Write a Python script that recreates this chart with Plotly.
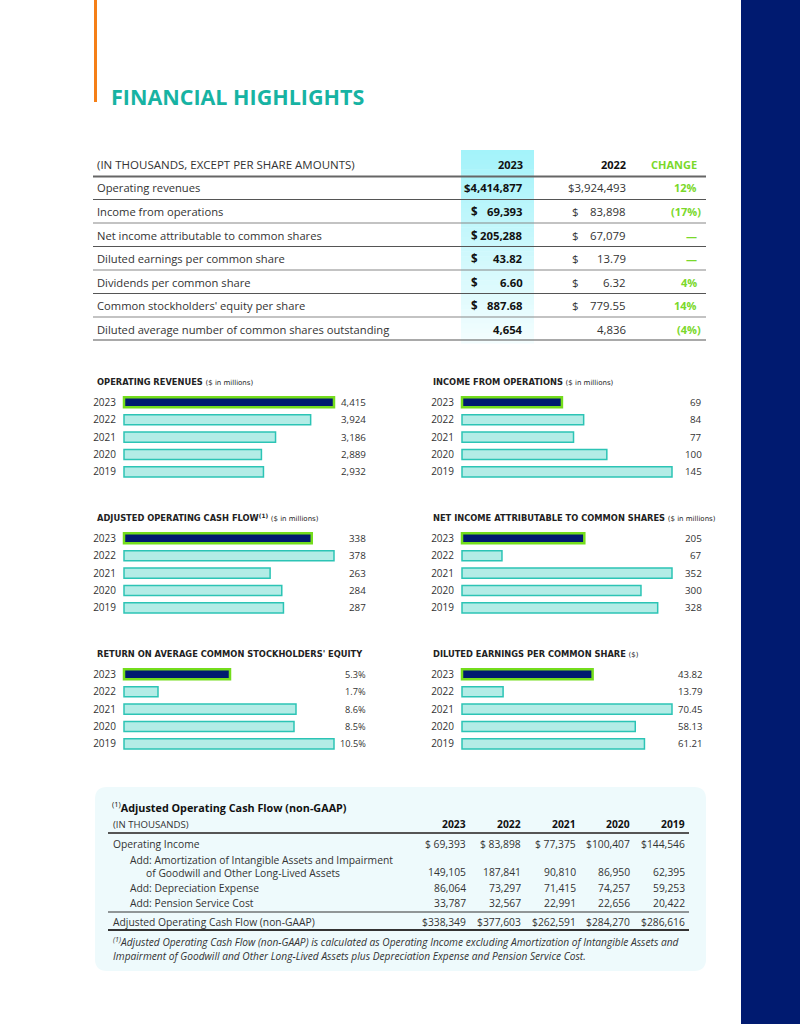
import plotly.graph_objects as go

W, H = 800, 1024
def X(p): return p / W
def Y(p): return 1 - p / H

FONT = "Open Sans"
TFONT = "DejaVu Sans"
NAVY = "#001A70"
LIME = "#74DD1C"
GREEN_TXT = "#7AD82A"
TEAL_TITLE = "#17B3A3"
BAR_FILL = "#B3ECE6"
BAR_LINE = "#2CC4B5"
TXT = "#333333"

# ---------------- data ----------------
years = ["2023", "2022", "2021", "2020", "2019"]
op_revenues = [4415, 3924, 3186, 2889, 2932]
income_ops = [69, 84, 77, 100, 145]
adj_ocf = [338, 378, 263, 284, 287]
net_income = [205, 67, 352, 300, 328]
roe_pct = [5.3, 1.7, 8.6, 8.5, 10.5]
eps = [43.82, 13.79, 70.45, 58.13, 61.21]

hl_labels = ["Operating revenues", "Income from operations",
             "Net income attributable to common shares",
             "Diluted earnings per common share", "Dividends per common share",
             "Common stockholders' equity per share",
             "Diluted average number of common shares outstanding"]
hl_2023 = ["$4,414,877", "69,393", "205,288", "43.82", "6.60", "887.68", "4,654"]
hl_2023_dollar = [False, True, True, True, True, True, False]
hl_2022 = ["$3,924,493", "83,898", "67,079", "13.79", "6.32", "779.55", "4,836"]
hl_2022_dollar = [False, True, True, True, True, True, False]
hl_change = ["12%", "(17%)", "—", "—", "4%", "14%", "(4%)"]

ocf_years = ["2023", "2022", "2021", "2020", "2019"]
ocf_labels = ["Operating Income",
              "Add: Amortization of Intangible Assets and Impairment<br>      of Goodwill and Other Long-Lived Assets",
              "Add: Depreciation Expense", "Add: Pension Service Cost",
              "Adjusted Operating Cash Flow (non-GAAP)"]
operating_income = ["$ 69,393", "$ 83,898", "$ 77,375", "$100,407", "$144,546"]
amortization = ["149,105", "187,841", "90,810", "86,950", "62,395"]
depreciation = ["86,064", "73,297", "71,415", "74,257", "59,253"]
pension_cost = ["33,787", "32,567", "22,991", "22,656", "20,422"]
adjusted_ocf = ["$338,349", "$377,603", "$262,591", "$284,270", "$286,616"]

fig = go.Figure()
shapes = []
ann = []

def txt(x, y, s, anchor="left", size=11, color=TXT, family=FONT, yanchor="middle"):
    ann.append(dict(x=X(x), y=Y(y), xref="paper", yref="paper", text=s, showarrow=False,
                    xanchor=anchor, yanchor=yanchor, align=anchor if anchor != "center" else "center",
                    font=dict(size=size, color=color, family=family)))

def hline(x0, x1, y, color="#555", width=1):
    shapes.append(dict(type="line", xref="paper", yref="paper", x0=X(x0), x1=X(x1), y0=Y(y), y1=Y(y),
                       line=dict(color=color, width=width)))

def rect(x0, y0, x1, y1, color, layer="below"):
    shapes.append(dict(type="rect", xref="paper", yref="paper", x0=X(x0), x1=X(x1), y0=Y(y0), y1=Y(y1),
                       fillcolor=color, line=dict(width=0), layer=layer))

# ---------------- decorations ----------------
rect(741, 0, 800, 1024, NAVY)
rect(94, 0, 97, 102, "#F57F17")
txt(109, 96, "<b>FINANCIAL HIGHLIGHTS</b>", size=21.5, color=TEAL_TITLE)

# highlight column gradient
n = 40
c0 = (164, 243, 250); c1 = (244, 254, 255)
for i in range(n):
    t = i / (n - 1)
    c = tuple(int(c0[k] + (c1[k] - c0[k]) * t) for k in range(3))
    y0 = 150 + (343 - 150) * i / n
    y1 = 150 + (343 - 150) * (i + 1) / n + 0.5
    rect(461, y0, 534, y1, "rgb(%d,%d,%d)" % c)

# ---------------- top table ----------------
row_y = [187, 211, 235, 258, 282, 305, 329]
line_y = [199.5, 223, 246.5, 270, 293.5, 317, 340]
txt(95, 164, "(IN THOUSANDS, EXCEPT PER SHARE AMOUNTS)", size=11.5)
txt(525, 164, "<b>2023</b>", anchor="right", size=11, color="#111")
txt(628, 164, "<b>2022</b>", anchor="right", size=11, color="#111")
txt(699, 164, "<b>CHANGE</b>", anchor="right", size=11, color=GREEN_TXT)
hline(93, 706, 176.5, color="#666", width=2)
for i, lab in enumerate(hl_labels):
    y = row_y[i]
    txt(95, y, lab, size=11.2)
    if hl_2023_dollar[i]:
        txt(469, y, "<b>$</b>", size=11.5, color="#111")
    txt(525, y, "<b>%s</b>" % hl_2023[i], anchor="right", size=11.3, color="#111")
    if hl_2022_dollar[i]:
        txt(570, y, "$", size=11.5)
    txt(628, y, hl_2022[i], anchor="right", size=11.4)
    ch = hl_change[i]
    txt(703 if ch.endswith(")") else 699, y, "<b>%s</b>" % ch, anchor="right", size=11, color=GREEN_TXT)
    hline(93, 706, line_y[i], color="#555" if i % 2 == 0 else "#888", width=1.2)

# ---------------- bar charts ----------------
charts = [
    ("OPERATING REVENUES", "($ in millions)", op_revenues, lambda v: f"{v:,}", 9.8),
    ("INCOME FROM OPERATIONS", "($ in millions)", income_ops, lambda v: f"{v:,}", 9.8),
    ("ADJUSTED OPERATING CASH FLOW<sup>(1)</sup>", "($ in millions)", adj_ocf, lambda v: f"{v:,}", 9.8),
    ("NET INCOME ATTRIBUTABLE TO COMMON SHARES", "($ in millions)", net_income, lambda v: f"{v:,}", 9.8),
    ("RETURN ON AVERAGE COMMON STOCKHOLDERS' EQUITY", "", roe_pct, lambda v: f"{v:.1f}%", 9.2),
    ("DILUTED EARNINGS PER COMMON SHARE", "($)", eps, lambda v: f"{v:.2f}", 9.6),
]
layout_axes = {}
SP = 17.4
for k, (title, sub, vals, fmt, vsize) in enumerate(charts):
    r, c = divmod(k, 2)
    first = 402.3 + 136 * r
    top = first - SP / 2
    bot = top + 5 * SP
    bx0 = 124 if c == 0 else 462
    tx = 95 if c == 0 else 431
    vx = 368 if c == 0 else 704
    mx = max(vals)
    idx = "" if k == 0 else str(k + 1)
    fig.add_trace(go.Bar(
        x=vals, y=years, orientation="h", width=0.58,
        marker=dict(color=[NAVY] + [BAR_FILL] * 4,
                    line=dict(color=[LIME] + [BAR_LINE] * 4, width=[2.5] + [1.5] * 4)),
        xaxis="x" + idx, yaxis="y" + idx, hoverinfo="skip"))
    layout_axes["xaxis" + idx] = dict(domain=[X(bx0 - 2), X(bx0 + 212)], range=[-0.0095 * mx, mx * 1.0095],
                                      anchor="y" + idx, visible=False, fixedrange=True)
    layout_axes["yaxis" + idx] = dict(domain=[Y(bot), Y(top)], range=[4.5, -0.5], type="category",
                                      categoryorder="array", categoryarray=years,
                                      anchor="x" + idx, showgrid=False, zeroline=False, showline=False,
                                      ticks="", ticklabelstandoff=5, fixedrange=True,
                                      tickfont=dict(size=10, color=TXT, family=FONT))
    sub_html = (" <span style='font-size:7px'>%s</span>" % sub) if sub else ""
    txt(tx, first - 20, "<b>%s</b>%s" % (title, sub_html), size=8.3, color="#222", family=TFONT)
    for i, v in enumerate(vals):
        txt(vx, first + i * SP, fmt(v), anchor="right", size=vsize)

# ---------------- bottom box ----------------
x0, y0, x1, y1, rr = 95, 787, 706, 971, 12
pts = lambda a, b: "%.5f,%.5f" % (X(a), Y(b))
path = ("M %s L %s Q %s %s L %s Q %s %s L %s Q %s %s L %s Q %s %s Z" % (
    pts(x0 + rr, y0), pts(x1 - rr, y0), pts(x1, y0), pts(x1, y0 + rr), pts(x1, y1 - rr),
    pts(x1, y1), pts(x1 - rr, y1), pts(x0 + rr, y1), pts(x0, y1), pts(x0, y1 - rr),
    pts(x0, y0 + rr), pts(x0, y0), pts(x0 + rr, y0)))
shapes.append(dict(type="path", path=path, xref="paper", yref="paper",
                   fillcolor="#EEFAFC", line=dict(width=0), layer="below"))

txt(110, 807, "<sup>(1)</sup><b>Adjusted Operating Cash Flow (non-GAAP)</b>", size=10.8, color="#111")
txt(111, 824, "(IN THOUSANDS)", size=9.6)
col_x = [468, 523, 578, 632, 687]
for yr, cx in zip(ocf_years, col_x):
    txt(cx, 824, "<b>%s</b>" % yr, anchor="right", size=10.3, color="#111")
hline(108, 689, 833, color="#555", width=2)
txt(111, 844, ocf_labels[0], size=10.3)
txt(128, 866.5, ocf_labels[1], size=10.3)
txt(128, 888, ocf_labels[2], size=10.3)
txt(128, 903, ocf_labels[3], size=10.3)
hline(108, 689, 912, color="#333", width=1)
txt(111, 921.5, ocf_labels[4], size=10.3)
hline(108, 689, 930, color="#333", width=2)
for j, cx in enumerate(col_x):
    txt(cx, 844, operating_income[j], anchor="right", size=10.3)
    txt(cx, 872, amortization[j], anchor="right", size=10.3)
    txt(cx, 888, depreciation[j], anchor="right", size=10.3)
    txt(cx, 903, pension_cost[j], anchor="right", size=10.3)
    txt(cx, 921.5, adjusted_ocf[j], anchor="right", size=10.3)
txt(111, 948.5, "<i><sup>(1)</sup>Adjusted Operating Cash Flow (non-GAAP) is calculated as Operating Income excluding Amortization of Intangible Assets and<br>Impairment of Goodwill and Other Long-Lived Assets plus Depreciation Expense and Pension Service Cost.</i>",
    size=10.2)

fig.update_layout(width=W, height=H, margin=dict(l=0, r=0, t=0, b=0), paper_bgcolor="white",
                  plot_bgcolor="rgba(0,0,0,0)", showlegend=False, barmode="overlay",
                  shapes=shapes, annotations=ann, **layout_axes)
fig.write_html("out.html", config={"displayModeBar": False},
               post_script="document.body.style.margin='0';document.body.style.overflow='hidden';")
